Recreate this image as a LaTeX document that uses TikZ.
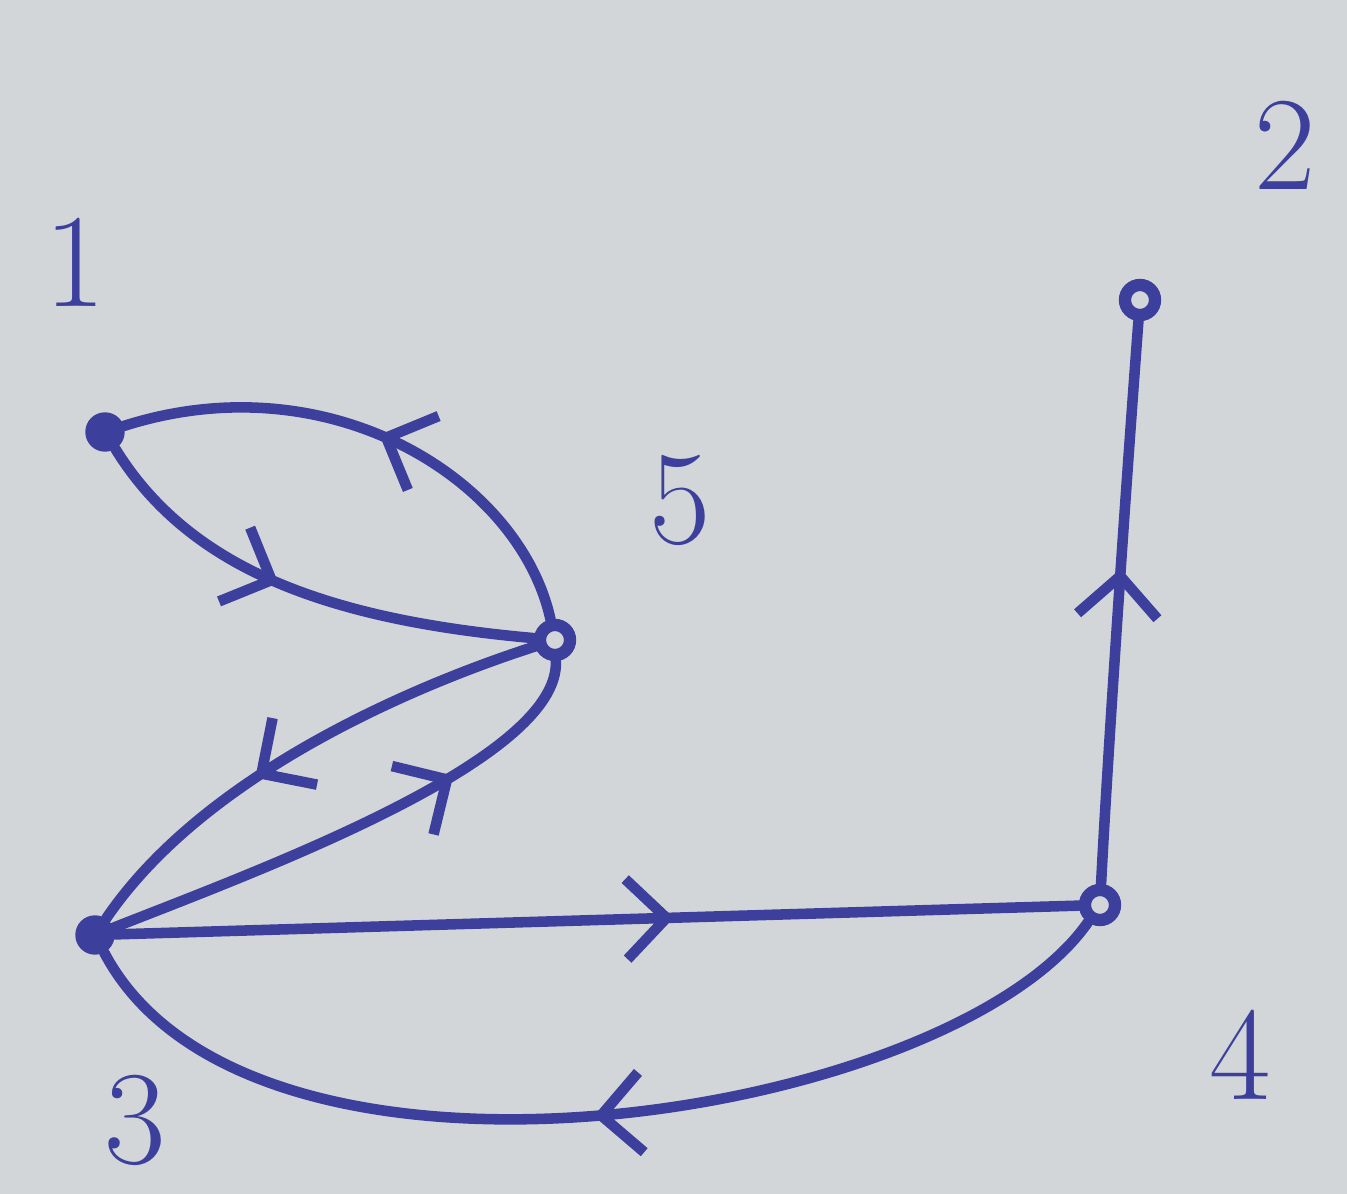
\documentclass[tikz,border=0pt]{standalone}
\usetikzlibrary{arrows.meta,decorations.markings}
\definecolor{paper}{HTML}{D3D6D8}
\definecolor{ink}{HTML}{3C409C}
\tikzset{
  full/.style={circle,fill=ink,draw=ink,minimum size=0.38cm,inner sep=0pt},
  hollow/.style={circle,draw=ink,line width=3.5pt,minimum size=0.3cm,inner sep=0pt},
  lbl/.style={text=ink,font=\fontsize{38}{44}\selectfont,inner sep=0pt},
  edge/.style={draw=ink,line width=3pt,line cap=round},
  midarrow/.style={postaction={decorate},decoration={markings,
     mark=at position #1 with {\arrow[ink,line width=3pt]{Straight Barb[length=4mm,width=8mm]}}}}
}
\begin{document}
\begin{tikzpicture}[x=0.01cm,y=-0.01cm]
  \fill[paper] (0,0) rectangle (1347,1194);
  \useasboundingbox (0,0) rectangle (1347,1194);
  % nodes
  \node[full] (n1) at (105,432) {};
  \node[hollow] (n5) at (555,640) {};
  \node[hollow] (n2) at (1140,300) {};
  \node[hollow] (n4) at (1100,905) {};
  \node[full] (n3) at (95,935) {};
  % labels
  \node[lbl] (l1) at (75,262) {1};
  \node[lbl] (l5) at (680,500) {5};
  \node[lbl] (l2) at (1285,145) {2};
  \node[lbl] (l4) at (1240,1055) {4};
  \node[lbl] (l3) at (135,1120) {3};
  % edges
  \draw[edge,midarrow=0.5] (n5) .. controls (520,480) and (330,360) .. (n1);
  \draw[edge,midarrow=0.45] (n1) .. controls (190,570) and (330,620) .. (n5);
  \draw[edge,midarrow=0.6] (n5) .. controls (400,690) and (200,780) .. (n3);
  \draw[edge,midarrow=0.7] (n3) .. controls (260,870) and (560,760) .. (n5);
  \draw[edge,midarrow=0.58] (n3) -- (n4);
  \draw[edge,midarrow=0.5] (n4) .. controls (950,1120) and (250,1230) .. (n3);
  \draw[edge,midarrow=0.56] (n4) .. controls (1108,750) and (1125,500) .. (n2);
\end{tikzpicture}
\end{document}
